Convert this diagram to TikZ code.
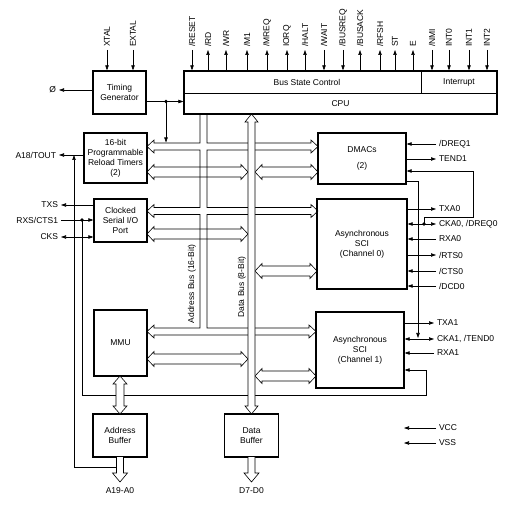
\documentclass[tikz,border=0pt]{standalone}
\usepackage{fontspec}
\setmainfont{Liberation Sans}
\usepackage{tikz}
\usetikzlibrary{arrows.meta, positioning, calc}

\tikzset{
  blk/.style={draw, line width=1.2pt, align=center, inner sep=1pt},
  sig/.style={inner sep=1pt, outer sep=2pt},
}

% hollow bus arrows: double headed horizontal, double headed vertical, single down
\newcommand{\hbus}[4]{%
  \draw (#1,#3) -- (#1+7,#3-#4-2.5) -- (#1+7,#3-#4) -- (#2-7,#3-#4) -- (#2-7,#3-#4-2.5)
    -- (#2,#3) -- (#2-7,#3+#4+2.5) -- (#2-7,#3+#4) -- (#1+7,#3+#4) -- (#1+7,#3+#4+2.5) -- cycle;}
\newcommand{\vbus}[4]{%
  \draw[fill=white] (#3,#1) -- (#3-#4-3,#1+8) -- (#3-#4,#1+8) -- (#3-#4,#2-8) -- (#3-#4-3,#2-8)
    -- (#3,#2) -- (#3+#4+3,#2-8) -- (#3+#4,#2-8) -- (#3+#4,#1+8) -- (#3+#4+3,#1+8) -- cycle;}
\newcommand{\dnbus}[4]{%
  \draw[fill=white] (#1-#4,#2) -- (#1-#4,#3-9) -- (#1-#4-4,#3-9) -- (#1,#3)
    -- (#1+#4+4,#3-9) -- (#1+#4,#3-9) -- (#1+#4,#2);}

\begin{document}
\begin{tikzpicture}[x=1pt, y=-1pt, line width=0.6pt, font=\fontsize{8.5}{10}\selectfont,
  >={Triangle[length=5pt,width=3.4pt]}]
  \useasboundingbox (0,0) rectangle (519,510);

  % blocks
  \node[blk, minimum width=53pt, minimum height=43pt] (tg) at (119.5,92.5) {Timing\\Generator};
  \node[blk, minimum width=313pt, minimum height=43pt] (cpu) at (340.5,92.5) {};
  \draw (184,93) -- (497,93);
  \draw (421,71) -- (421,93);
  \node (bsc) at (307,82) {Bus State Control};
  \node (intr) at (459,82) {Interrupt};
  \node (cpulbl) at (340.5,103.5) {CPU};
  \node[blk, minimum width=63pt, minimum height=50pt] (tmr) at (115.5,158) {16-bit\\Programmable\\Reload Timers\\(2)};
  \node[blk, minimum width=53pt, minimum height=43pt] (csio) at (120.5,220.5) {Clocked\\Serial I/O\\Port};
  \node[blk, minimum width=88pt, minimum height=51pt] (dmac) at (362,158.5) {DMACs\\[6pt](2)};
  \node[blk, minimum width=90pt, minimum height=90pt] (sci0) at (362,244) {Asynchronous\\SCI\\(Channel 0)};
  \node[blk, minimum width=88pt, minimum height=76pt] (sci1) at (360,350) {Asynchronous\\SCI\\(Channel 1)};
  \node[blk, minimum width=53pt, minimum height=66pt] (mmu) at (120.5,343) {MMU};
  \node[blk, minimum width=54pt, minimum height=43pt] (abuf) at (120,435.5) {Address\\Buffer};
  \node[blk, minimum width=54pt, minimum height=43pt] (dbuf) at (251.5,435.5) {Data\\Buffer};

  % clock inputs and CPU pins
  \node[sig, rotate=90, anchor=west] (xtal) at (107,50) {XTAL};
  \draw[->] (xtal.west) -- (xtal.west |- tg.north);
  \node[sig, rotate=90, anchor=west] (extal) at (133,50) {EXTAL};
  \draw[->] (extal.west) -- (extal.west |- tg.north);
  \node[sig, rotate=90, anchor=west] (reset) at (192,50) {/RESET};
  \draw[->] (reset.west) -- (reset.west |- cpu.north);
  \node[sig, rotate=90, anchor=west] (rd) at (208,50) {/RD};
  \draw[->] (rd.west |- cpu.north) -- (rd.west);
  \node[sig, rotate=90, anchor=west] (wr) at (226,50) {/WR};
  \draw[->] (wr.west |- cpu.north) -- (wr.west);
  \node[sig, rotate=90, anchor=west] (mone) at (247,50) {/M1};
  \draw[->] (mone.west |- cpu.north) -- (mone.west);
  \node[sig, rotate=90, anchor=west] (mreq) at (267,50) {/MREQ};
  \draw[->] (mreq.west |- cpu.north) -- (mreq.west);
  \node[sig, rotate=90, anchor=west] (iorq) at (287,50) {IORQ};
  \draw[->] (iorq.west |- cpu.north) -- (iorq.west);
  \node[sig, rotate=90, anchor=west] (halt) at (305,50) {/HALT};
  \draw[->] (halt.west |- cpu.north) -- (halt.west);
  \node[sig, rotate=90, anchor=west] (wait) at (324,50) {/WAIT};
  \draw[->] (wait.west) -- (wait.west |- cpu.north);
  \node[sig, rotate=90, anchor=west] (busreq) at (343,50) {/BUSREQ};
  \draw[->] (busreq.west) -- (busreq.west |- cpu.north);
  \node[sig, rotate=90, anchor=west] (busack) at (360,50) {/BUSACK};
  \draw[->] (busack.west |- cpu.north) -- (busack.west);
  \node[sig, rotate=90, anchor=west] (rfsh) at (380,50) {/RFSH};
  \draw[->] (rfsh.west |- cpu.north) -- (rfsh.west);
  \node[sig, rotate=90, anchor=west] (st) at (395,50) {ST};
  \draw[->] (st.west |- cpu.north) -- (st.west);
  \node[sig, rotate=90, anchor=west] (e) at (413,50) {E};
  \draw[->] (e.west |- cpu.north) -- (e.west);
  \node[sig, rotate=90, anchor=west] (nmi) at (432,50) {/NMI};
  \draw[->] (nmi.west) -- (nmi.west |- cpu.north);
  \node[sig, rotate=90, anchor=west] (int0) at (449,50) {INT0};
  \draw[->] (int0.west) -- (int0.west |- cpu.north);
  \node[sig, rotate=90, anchor=west] (int1) at (469,50) {INT1};
  \draw[->] (int1.west) -- (int1.west |- cpu.north);
  \node[sig, rotate=90, anchor=west] (int2) at (487,50) {INT2};
  \draw[->] (int2.west) -- (int2.west |- cpu.north);

  % left side pins
  \node[sig, anchor=east] (phi) at (59,90) {Ø};
  \draw[->] (phi.east -| tg.west) -- (phi.east);
  \node[sig, anchor=east] (tout) at (59,155) {A18/TOUT};
  \draw[->] (tout.east -| tmr.west) -- (tout.east);
  \node[sig, anchor=east] (txs) at (61,205) {TXS};
  \draw[->] (txs.east -| csio.west) -- (txs.east);
  \node[sig, anchor=east] (rxs) at (61,220) {RXS/CTS1};
  \draw[->] (rxs.east) -- (rxs.east -| csio.west);
  \node[sig, anchor=east] (cks) at (61,237) {CKS};
  \draw[<->] (cks.east) -- (cks.east -| csio.west);

  % clock to CPU and timers
  \coordinate (clk) at (166,101.5);
  \draw[->] (tg.east |- clk) -- (cpu.west |- clk);
  \fill (clk) circle (1.8pt);
  \draw[->] (clk) -- (166,142.5);

  % DMAC pins
  \node[sig, anchor=west] (dreqone) at (436,144) {/DREQ1};
  \draw[->] (dreqone.west) -- (dreqone.west -| dmac.east);
  \node[sig, anchor=west] (tendone) at (436,159) {TEND1};
  \draw[->] (tendone.west -| dmac.east) -- (tendone.west);

  % SCI channel 0 pins
  \node[sig, anchor=west] (txa0) at (436,209) {TXA0};
  \draw[->] (txa0.west -| sci0.east) -- (txa0.west);
  \node[sig, anchor=west] (cka0) at (436,224) {CKA0, /DREQ0};
  \draw[<->] (cka0.west -| sci0.east) -- (cka0.west);
  \node[sig, anchor=west] (rxa0) at (436,239) {RXA0};
  \draw[->] (rxa0.west) -- (rxa0.west -| sci0.east);
  \node[sig, anchor=west] (rts0) at (436,255) {/RTS0};
  \draw[->] (rts0.west -| sci0.east) -- (rts0.west);
  \node[sig, anchor=west] (cts0) at (436,271) {/CTS0};
  \draw[->] (cts0.west) -- (cts0.west -| sci0.east);
  \node[sig, anchor=west] (dcd0) at (436,286) {/DCD0};
  \draw[->] (dcd0.west) -- (dcd0.west -| sci0.east);

  % SCI channel 1 pins
  \node[sig, anchor=west] (txa1) at (434,323) {TXA1};
  \draw[->] (txa1.west -| sci1.east) -- (txa1.west);
  \node[sig, anchor=west] (cka1) at (434,339) {CKA1, /TEND0};
  \draw[<->] (cka1.west -| sci1.east) -- (cka1.west);
  \node[sig, anchor=west] (rxa1) at (434,353) {RXA1};
  \draw[->] (rxa1.west) -- (rxa1.west -| sci1.east);

  % DREQ0 and TEND0 shared with the DMAC
  \coordinate (dreqdot) at (424,224);
  \fill (dreqdot) circle (1.8pt);
  \draw[->] (dreqdot) -- (424,217) -- (473,217) |- ([yshift=-12.5pt]dmac.east);
  \draw[->] ([yshift=-22.5pt]dmac.east) -| (418,338);

  % power
  \node[sig, anchor=west] (vcc) at (436,428) {VCC};
  \draw[->] (vcc.west) -- ++(-32,0);
  \node[sig, anchor=west] (vss) at (436,443) {VSS};
  \draw[->] (vss.west) -- ++(-32,0);

  % address bus
  \draw (200,114) -- (200,143) -- (154,143) -- (154,140) -- (147,146.5) -- (154,153) -- (154,150) -- (200,150)
    -- (200,207.5) -- (154,207.5) -- (154,204.5) -- (147,211) -- (154,217.5) -- (154,214.5) -- (200,214.5)
    -- (200,328) -- (154,328) -- (154,325) -- (147,331.5) -- (154,338) -- (154,335)
    -- (309,335) -- (309,338) -- (316,331.5) -- (309,325) -- (309,328) -- (207,328)
    -- (207,214.5) -- (311,214.5) -- (311,217.5) -- (318,211) -- (311,204.5) -- (311,207.5) -- (207,207.5)
    -- (207,150) -- (311,150) -- (311,153) -- (318,146.5) -- (311,140) -- (311,143) -- (207,143) -- (207,114);
  \node[sig, rotate=90] (abus) at (192,284) {Address Bus (16-Bit)};

  % data bus branches
  \hbus{147}{248}{172}{5}
  \hbus{255}{318}{172}{5}
  \hbus{147}{248}{234}{5}
  \hbus{255}{317}{271}{5}
  \hbus{147}{248}{359}{5}
  \hbus{255}{316}{376}{5}

  % CTS1 and A18 routing
  \coordinate (ctsdot) at (82,220);
  \fill (ctsdot) circle (1.8pt);
  \draw[->] (ctsdot) -- (82,395) -- (426,395) |- ([yshift=-20pt]sci1.east);
  \draw[->] (116.5,467) -| (74,155);

  \vbus{376}{414}{120}{4}
  \vbus{114}{414}{251.5}{3.5}
  \node[sig, rotate=90] (dbus) at (242,287) {Data Bus (8-Bit)};
  \dnbus{120}{457}{482}{3.5}
  \dnbus{251.5}{457}{482}{3.5}
  \node (aout) at (120,491) {A19-A0};
  \node (dout) at (251.5,491) {D7-D0};
\end{tikzpicture}
\end{document}
